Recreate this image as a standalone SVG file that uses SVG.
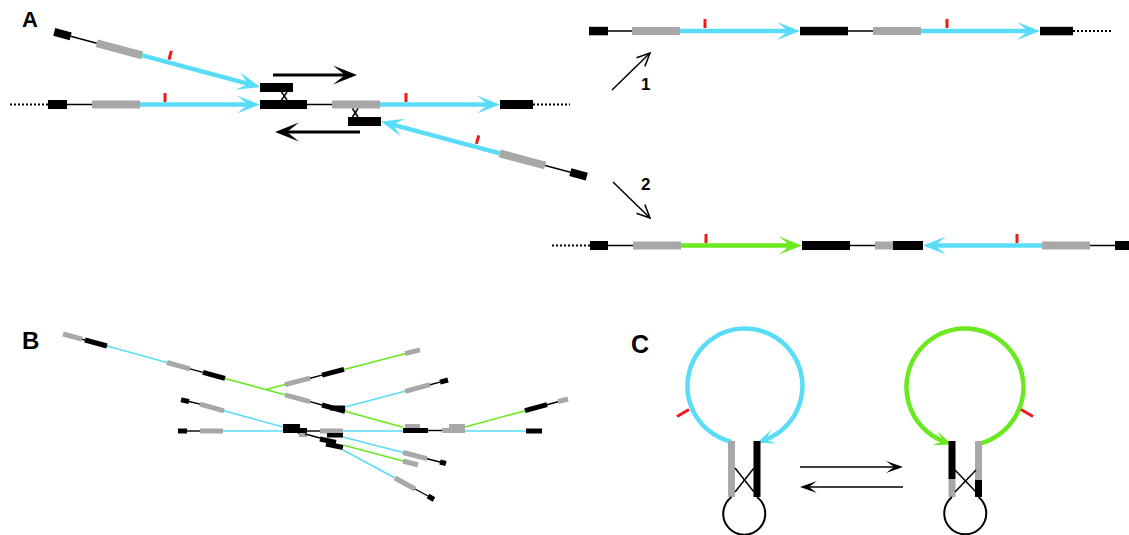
<svg xmlns="http://www.w3.org/2000/svg" width="1129" height="535" viewBox="0 0 1129 535">
<style>
.lbl{font-family:"Liberation Sans",Arial,sans-serif;font-weight:bold;fill:#000}
.cy{stroke:#58DCF7;stroke-width:4.5;fill:none}
.gr{stroke:#6AE820;stroke-width:4.5;fill:none}
.thin{stroke:#000;stroke-width:1.5}
.dot{stroke:#000;stroke-width:2;stroke-dasharray:2 2}
.blk{fill:#000}
.gry{fill:#A8A8A8}
.red{stroke:#EE1A1A;stroke-width:3}
.bcy{stroke:#58DCF7;stroke-width:1.6}
.bgr{stroke:#6AE820;stroke-width:1.6}
.bk{stroke:#000;stroke-width:1.4}
.bK{stroke:#000;stroke-width:5}
.bG{stroke:#A8A8A8;stroke-width:5}
</style>
<defs>
<marker id="ahC" viewBox="-24 -10 26 20" markerWidth="26" markerHeight="20" refX="-12" refY="0" orient="auto" markerUnits="userSpaceOnUse"><path d="M0,0 L-23,-9 L-12,0 L-23,9 Z" fill="#58DCF7"/></marker>
<marker id="ahG" viewBox="-24 -10 26 20" markerWidth="26" markerHeight="20" refX="-12" refY="0" orient="auto" markerUnits="userSpaceOnUse"><path d="M0,0 L-23,-9 L-12,0 L-23,9 Z" fill="#6AE820"/></marker>
<marker id="ahK" viewBox="-26 -11 28 22" markerWidth="28" markerHeight="22" refX="-12" refY="0" orient="auto" markerUnits="userSpaceOnUse"><path d="M0,0 L-24,-9.5 L-12,0 L-24,9.5 Z" fill="#000"/></marker>
<marker id="ahCs" viewBox="-20 -9 22 18" markerWidth="22" markerHeight="18" refX="-8" refY="0" orient="auto" markerUnits="userSpaceOnUse"><path d="M0,0 L-18,-7.5 L-9,0 L-18,7.5 Z" fill="#58DCF7"/></marker>
<marker id="ahGs" viewBox="-20 -9 22 18" markerWidth="22" markerHeight="18" refX="-8" refY="0" orient="auto" markerUnits="userSpaceOnUse"><path d="M0,0 L-18,-7.5 L-9,0 L-18,7.5 Z" fill="#6AE820"/></marker>
<marker id="ahKs" viewBox="-20 -8 22 16" markerWidth="22" markerHeight="16" refX="-9" refY="0" orient="auto" markerUnits="userSpaceOnUse"><path d="M0,0 L-17,-6 L-9,0 L-17,6 Z" fill="#000"/></marker>
<marker id="chev" viewBox="-16 -8 18 16" markerWidth="18" markerHeight="16" refX="0" refY="0" orient="auto" markerUnits="userSpaceOnUse"><path d="M-13,-6 L0,0 L-13,6" fill="none" stroke="#000" stroke-width="1.5"/></marker>
</defs>

<g id="labels">
<text class="lbl" x="22" y="27" font-size="22">A</text>
<text class="lbl" x="22" y="349" font-size="24">B</text>
<text class="lbl" x="631" y="353" font-size="25">C</text>
<text class="lbl" x="641" y="90" font-size="17">1</text>
<text class="lbl" x="641" y="190" font-size="17">2</text>
</g>

<!-- Panel A: top-left diagonal strand -->
<g id="strandA1" transform="translate(260,87) rotate(15)">
<rect class="blk" x="-213" y="-4" width="17" height="8"/>
<line class="thin" x1="-196" y1="0" x2="-169" y2="0"/>
<rect class="gry" x="-169" y="-4" width="47" height="8"/>
<line class="cy" x1="-122" y1="0" x2="-12" y2="0" marker-end="url(#ahC)"/>
<line class="red" x1="-95" y1="-12" x2="-95" y2="-3"/>
</g>

<!-- Panel A: middle strand -->
<g id="strandA2">
<line class="dot" x1="10" y1="104.5" x2="48" y2="104.5"/>
<rect class="blk" x="48" y="100" width="19" height="9"/>
<line class="thin" x1="67" y1="104.5" x2="92" y2="104.5"/>
<rect class="gry" x="92" y="100.5" width="48" height="8"/>
<line class="cy" x1="140" y1="104.5" x2="248" y2="104.5" marker-end="url(#ahC)"/>
<line class="red" x1="165" y1="93" x2="165" y2="102"/>
</g>

<g id="centerA">
<rect class="blk" x="260" y="83" width="33" height="9"/>
<rect class="blk" x="260" y="100" width="47" height="9"/>
<line class="thin" x1="281.5" y1="92" x2="287" y2="100"/>
<line class="thin" x1="287" y1="92" x2="281.5" y2="100"/>
<line class="thin" x1="307" y1="104.5" x2="332" y2="104.5"/>
<rect class="gry" x="332" y="100.5" width="48" height="8"/>
<rect class="blk" x="348" y="117" width="33" height="9"/>
<line class="thin" x1="352.5" y1="108.5" x2="358" y2="117"/>
<line class="thin" x1="358" y1="108.5" x2="352.5" y2="117"/>
<line class="cy" x1="380" y1="104.5" x2="488" y2="104.5" marker-end="url(#ahC)"/>
<line class="red" x1="406" y1="93" x2="406" y2="102"/>
<rect class="blk" x="500" y="100" width="33" height="9"/>
<line class="dot" x1="533" y1="104.5" x2="570" y2="104.5"/>
</g>

<!-- Panel A: lower diagonal strand -->
<g id="strandA3" transform="translate(381,121.5) rotate(15)">
<line class="cy" x1="123" y1="0" x2="12" y2="0" marker-end="url(#ahC)"/>
<rect class="gry" x="123" y="-4" width="47" height="8"/>
<line class="thin" x1="170" y1="0" x2="196" y2="0"/>
<rect class="blk" x="196" y="-4" width="17" height="8"/>
<line class="red" x1="98" y1="-12" x2="98" y2="-3"/>
</g>

<g id="connectors">
<line stroke="#000" stroke-width="3" x1="273" y1="75" x2="345" y2="75" marker-end="url(#ahK)"/>
<line stroke="#000" stroke-width="3" x1="360" y1="132" x2="287" y2="132" marker-end="url(#ahK)"/>
<line stroke="#000" stroke-width="1.5" x1="612" y1="90" x2="650" y2="53" marker-end="url(#chev)"/>
<line stroke="#000" stroke-width="1.5" x1="613" y1="182" x2="650" y2="218" marker-end="url(#chev)"/>
<line stroke="#000" stroke-width="1.5" x1="800" y1="467" x2="894" y2="467" marker-end="url(#ahKs)"/>
<line stroke="#000" stroke-width="1.5" x1="903" y1="487" x2="809" y2="487" marker-end="url(#ahKs)"/>
</g>

<!-- Panel A: product 1 -->
<g id="product1">
<rect class="blk" x="589" y="26.8" width="19" height="8.5"/>
<line class="thin" x1="608" y1="31" x2="632" y2="31"/>
<rect class="gry" x="632" y="27" width="48" height="8"/>
<line class="cy" x1="680" y1="31" x2="788" y2="31" marker-end="url(#ahC)"/>
<line class="red" x1="705" y1="19" x2="705" y2="28"/>
<rect class="blk" x="800" y="26.8" width="48" height="8.5"/>
<line class="thin" x1="848" y1="31" x2="873" y2="31"/>
<rect class="gry" x="873" y="27" width="48" height="8"/>
<line class="cy" x1="921" y1="31" x2="1028" y2="31" marker-end="url(#ahC)"/>
<line class="red" x1="947" y1="19" x2="947" y2="28"/>
<rect class="blk" x="1040" y="26.8" width="33" height="8.5"/>
<line class="dot" x1="1073" y1="31" x2="1112" y2="31"/>
</g>

<!-- Panel A: product 2 -->
<g id="product2">
<line class="dot" x1="552" y1="245.5" x2="590" y2="245.5"/>
<rect class="blk" x="590" y="241" width="18" height="9"/>
<line class="thin" x1="608" y1="245.5" x2="633" y2="245.5"/>
<rect class="gry" x="633" y="241.5" width="48" height="8"/>
<line class="gr" x1="681" y1="245.5" x2="790" y2="245.5" marker-end="url(#ahG)"/>
<line class="red" x1="706" y1="234" x2="706" y2="243"/>
<rect class="blk" x="802" y="241" width="48" height="9"/>
<line class="thin" x1="850" y1="245.5" x2="875" y2="245.5"/>
<rect class="gry" x="875" y="241.5" width="18" height="8"/>
<rect class="blk" x="893" y="241" width="30" height="9"/>
<line class="cy" x1="1042" y1="245.5" x2="935" y2="245.5" marker-end="url(#ahC)"/>
<line class="red" x1="1017" y1="234" x2="1017" y2="243"/>
<rect class="gry" x="1042" y="241.5" width="48" height="8"/>
<line class="thin" x1="1090" y1="245.5" x2="1115" y2="245.5"/>
<rect class="blk" x="1115" y="241" width="16" height="9"/>
</g>

<!-- Panel B -->
<g id="panelB">
<g id="b1">
<line class="bG" x1="63" y1="334" x2="82" y2="339.2"/>
<line class="bk" x1="82" y1="339.2" x2="85" y2="340"/>
<line class="bK" x1="85" y1="340" x2="107" y2="346"/>
<line class="bcy" x1="107" y1="346" x2="167" y2="362.5"/>
<line class="bG" x1="167" y1="362.5" x2="190" y2="368.8"/>
<line class="bk" x1="190" y1="368.8" x2="203" y2="372.4"/>
<line class="bK" x1="203" y1="372.4" x2="225" y2="378.4"/>
<line class="bgr" x1="225" y1="378.4" x2="285" y2="394.8"/>
<line class="bG" x1="285" y1="394.8" x2="310" y2="401.7"/>
<line class="bk" x1="310" y1="401.7" x2="322" y2="405"/>
<line class="bK" x1="322" y1="405" x2="345" y2="411.3"/>
<line class="bK" stroke-width="7" x1="330" y1="408" x2="345" y2="408"/>
<line class="bgr" x1="345" y1="411.3" x2="403" y2="427.2"/>
</g>
<g id="b2">
<line class="bgr" x1="266" y1="389.5" x2="285" y2="384.6"/>
<line class="bG" x1="285" y1="384.6" x2="310" y2="378.2"/>
<line class="bk" x1="310" y1="378.2" x2="322" y2="375.1"/>
<line class="bK" x1="322" y1="375.1" x2="344" y2="369.4"/>
<line class="bgr" x1="344" y1="369.4" x2="405" y2="353.7"/>
<line class="bG" x1="405" y1="353.7" x2="420" y2="349.8"/>
</g>
<g id="b3">
<line class="bcy" x1="345" y1="407" x2="405" y2="391.3"/>
<line class="bG" x1="405" y1="391.3" x2="430" y2="384.7"/>
<line class="bk" x1="430" y1="384.7" x2="440" y2="382.1"/>
<line class="bK" x1="440" y1="382.1" x2="448" y2="380"/>
</g>
<g id="b4">
<line class="bK" x1="178" y1="431" x2="187" y2="431"/>
<line class="bk" x1="187" y1="431" x2="200" y2="431"/>
<line class="bG" x1="200" y1="431" x2="223" y2="431"/>
<line class="bcy" x1="223" y1="431" x2="283" y2="431"/>
<rect class="blk" x="283" y="424" width="17" height="9"/>
<rect class="blk" x="298" y="428" width="9" height="6"/>
<rect class="gry" x="299" y="433" width="8" height="4"/>
<line class="bk" x1="307" y1="431" x2="320" y2="431"/>
<rect class="gry" x="320" y="428.5" width="23" height="5"/>
<rect class="blk" x="327" y="433" width="16" height="4.5"/>
<line class="bcy" x1="343" y1="431" x2="403" y2="431"/>
<rect class="gry" x="405" y="424" width="15" height="4.5"/>
<rect class="blk" x="403" y="428" width="25" height="5"/>
<line class="bk" x1="428" y1="430.5" x2="442" y2="430.5"/>
<rect class="gry" x="442" y="428" width="23" height="5"/>
<rect class="gry" x="449" y="424" width="16" height="5"/>
<line class="bcy" x1="465" y1="431" x2="526" y2="431"/>
<rect class="blk" x="526" y="428.5" width="16" height="5"/>
</g>
<g id="b5">
<line class="bgr" x1="465" y1="427" x2="525" y2="410.7"/>
<line class="bK" x1="525" y1="410.7" x2="547" y2="404.7"/>
<line class="bk" x1="547" y1="404.7" x2="558" y2="401.7"/>
<line class="bG" x1="558" y1="401.7" x2="568" y2="399"/>
</g>
<g id="b6">
<line class="bK" x1="181" y1="399.9" x2="189" y2="401.5"/>
<line class="bk" x1="189" y1="401.5" x2="200" y2="404.1"/>
<line class="bG" x1="200" y1="404.1" x2="224" y2="410.8"/>
<line class="bcy" x1="224" y1="410.8" x2="283" y2="427"/>
</g>
<g id="b7">
<line class="bk" x1="305" y1="434" x2="322" y2="438.5"/>
<line class="bK" x1="320" y1="439" x2="336" y2="442.5"/>
<line class="bK" stroke-width="8" x1="326" y1="444" x2="343" y2="447.5"/>
<line class="bcy" x1="343" y1="437" x2="403" y2="452.5"/>
<line class="bG" x1="403" y1="452.5" x2="427" y2="458.7"/>
<line class="bk" x1="427" y1="458.7" x2="440" y2="462"/>
<line class="bK" x1="440" y1="462" x2="446" y2="463.5"/>
<line class="bgr" x1="343" y1="445" x2="403" y2="461"/>
<line class="bG" x1="403" y1="461" x2="418" y2="465"/>
<line class="bcy" x1="343" y1="450" x2="395" y2="478"/>
<line class="bG" x1="395" y1="478" x2="415" y2="489"/>
<line class="bk" x1="415" y1="489" x2="428" y2="496"/>
<line class="bK" x1="428" y1="496" x2="434" y2="499.5"/>
</g>
</g>

<!-- Panel C: left structure -->
<g id="hairpinL">
<path class="cy" stroke-width="4" d="M731.5,441.9 A57.5,57.5 0 1 1 764.7,440.0" marker-end="url(#ahCs)"/>
<line class="red" x1="689" y1="409.5" x2="677" y2="416.5"/>
<rect class="gry" x="728" y="441" width="7" height="56"/>
<rect class="blk" x="753.5" y="441" width="7" height="56"/>
<line class="thin" x1="735" y1="468" x2="754" y2="492"/>
<line class="thin" x1="735" y1="492" x2="754" y2="468"/>
<path d="M731.5,497 A21,21 0 1 0 757,497" fill="none" stroke="#000" stroke-width="2"/>
</g>

<!-- Panel C: right structure -->
<g id="hairpinR">
<path class="gr" stroke-width="4" d="M978.5,443.9 A58.5,58.5 0 1 0 944.2,441.7" marker-end="url(#ahGs)"/>
<line class="red" x1="1021" y1="409.5" x2="1033" y2="416.5"/>
<rect class="blk" x="948.5" y="441" width="7" height="38"/>
<rect class="gry" x="948.5" y="479" width="7" height="18"/>
<rect class="gry" x="975" y="441" width="7" height="39"/>
<rect class="blk" x="975" y="480" width="7" height="17"/>
<line class="thin" x1="955" y1="470" x2="976" y2="492"/>
<line class="thin" x1="955" y1="492" x2="976" y2="470"/>
<path d="M952,497 A21,21 0 1 0 978.5,497" fill="none" stroke="#000" stroke-width="2"/>
</g>
</svg>
